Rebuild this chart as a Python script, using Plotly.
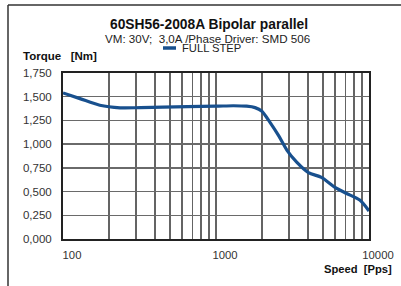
import plotly.graph_objects as go

# ---- data ----
speed_pps = [100, 129, 174, 236, 320, 450, 650, 1000, 1300, 1585, 1800, 1987, 2254, 2566, 2912, 3368, 4019, 4890, 5988, 7146, 8702, 10000]
torque_nm = [1.54, 1.48, 1.41, 1.383, 1.385, 1.39, 1.395, 1.40, 1.405, 1.40, 1.385, 1.35, 1.23, 1.09, 0.935, 0.81, 0.70, 0.65, 0.545, 0.48, 0.41, 0.295]
x_tickvals = [100, 200, 300, 400, 500, 600, 700, 800, 900,
              1000, 2000, 3000, 4000, 5000, 6000, 7000, 8000, 9000, 10000]
x_ticktext = ["100", "", "", "", "", "", "", "", "",
              "1000", "", "", "", "", "", "", "", "", "10000"]
y_tickvals = [0, 0.25, 0.5, 0.75, 1.0, 1.25, 1.5, 1.75]
y_ticktext = ["0,000", "0,250", "0,500", "0,750", "1,000", "1,250", "1,500", "1,750"]
title = "60SH56-2008A Bipolar parallel"
subtitle = "VM: 30V;\u00a0 3,0A /Phase Driver: SMD 506"
series_name = "FULL STEP"

W, H = 401, 286
L, R, T, B = 63, 32, 73, 47
PW, PH = W - L - R, H - T - B


def px(x):
    return (x - L) / PW


def py(y):
    return (H - B - y) / PH


FONT = "Liberation Sans, Arial, sans-serif"
BLUE = "#18508e"

fig = go.Figure()
fig.add_trace(go.Scatter(
    x=speed_pps, y=torque_nm, mode="lines", name=series_name,
    line=dict(color=BLUE, width=3.2, shape="spline", smoothing=0.8),
    showlegend=False, hoverinfo="skip"))

annotations = [
    dict(text="<b>" + title + "</b>", x=px(209), y=py(25), font=dict(size=13.8, color="#111")),
    dict(text=subtitle, x=px(207), y=py(38.5), font=dict(size=11.6, color="#222")),
    dict(text=series_name, x=px(181), y=py(48.5), xanchor="left", font=dict(size=11.2, color="#222")),
    dict(text="<b>Torque\u00a0\u00a0 [Nm]</b>", x=px(22), y=py(56), xanchor="left", font=dict(size=11.5, color="#111")),
    dict(text="<b>Speed\u00a0 [Pps]</b>", x=px(393), y=py(269), xanchor="right", font=dict(size=11.2, color="#111")),
]
for a in annotations:
    a.update(xref="paper", yref="paper", showarrow=False, yanchor="middle",
             xanchor=a.get("xanchor", "center"), borderpad=0)
    a["font"]["family"] = FONT

shapes = [
    # legend line
    dict(type="line", xref="paper", yref="paper", x0=px(163), x1=px(176), y0=py(48), y1=py(48),
         line=dict(color=BLUE, width=3.5)),
    # outer frame
    dict(type="line", xref="paper", yref="paper", x0=px(8), x1=px(402), y0=py(5), y1=py(5),
         line=dict(color="#333", width=1.5)),
    dict(type="line", xref="paper", yref="paper", x0=px(8), x1=px(8), y0=py(5), y1=py(290),
         line=dict(color="#333", width=1.5)),
    # emphasised 1,000 gridline
    dict(type="line", xref="paper", yref="y", x0=0, x1=1, y0=1.0, y1=1.0,
         line=dict(color="#111", width=1.5), layer="below"),
]

fig.update_layout(
    width=W, height=H, margin=dict(l=L, r=R, t=T, b=B, pad=0, autoexpand=False),
    paper_bgcolor="white", plot_bgcolor="white",
    font=dict(family=FONT, size=11.3, color="#333"),
    annotations=annotations, shapes=shapes, showlegend=False,
)
fig.update_xaxes(
    type="log", range=[2, 4], tickmode="array", tickvals=x_tickvals, ticktext=x_ticktext,
    showgrid=True, gridcolor="#646464", gridwidth=1.6,
    showline=True, linecolor="#222", linewidth=2, mirror=True, automargin=False,
    ticks="", ticklabelstandoff=4, ticklabelshift=9, zeroline=False,
    tickfont=dict(size=11.3, color="#333"),
)
fig.update_yaxes(
    range=[0, 1.75], tickmode="array", tickvals=y_tickvals, ticktext=y_ticktext,
    showgrid=True, gridcolor="#6a6a6a", gridwidth=1.4,
    showline=True, linecolor="#222", linewidth=2, mirror=True, automargin=False,
    ticks="", ticklabelstandoff=7, zeroline=False,
    tickfont=dict(size=11.5, color="#333"),
)

fig.write_html("out.html", config={"displayModeBar": False, "staticPlot": True},
               post_script="document.body.style.margin='0';document.body.style.overflow='hidden';")
